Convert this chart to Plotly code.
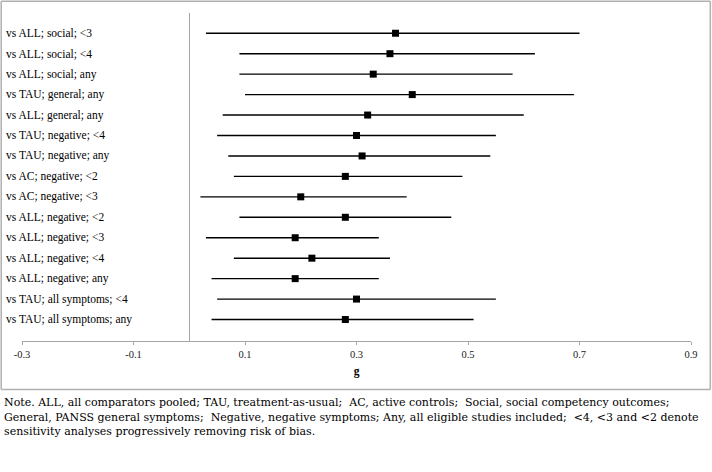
import plotly.graph_objects as go

labels = [
    "vs ALL; social; <3",
    "vs ALL; social; <4",
    "vs ALL; social; any",
    "vs TAU; general; any",
    "vs ALL; general; any",
    "vs TAU; negative; <4",
    "vs TAU; negative; any",
    "vs AC; negative; <2",
    "vs AC; negative; <3",
    "vs ALL; negative; <2",
    "vs ALL; negative; <3",
    "vs ALL; negative; <4",
    "vs ALL; negative; any",
    "vs TAU; all symptoms; <4",
    "vs TAU; all symptoms; any",
]
g_est = [0.37, 0.36, 0.33, 0.40, 0.32, 0.30, 0.31, 0.28, 0.20, 0.28, 0.19, 0.22, 0.19, 0.30, 0.28]
ci_low = [0.03, 0.09, 0.09, 0.10, 0.06, 0.05, 0.07, 0.08, 0.02, 0.09, 0.03, 0.08, 0.04, 0.05, 0.04]
ci_high = [0.70, 0.62, 0.58, 0.69, 0.60, 0.55, 0.54, 0.49, 0.39, 0.47, 0.34, 0.36, 0.34, 0.55, 0.51]
x_ticks = [-0.3, -0.1, 0.1, 0.3, 0.5, 0.7, 0.9]
x_tick_text = ["-0.3", "-0.1", "0.1", "0.3", "0.5", "0.7", "0.9"]
note_lines = [
    "Note. ALL, all comparators pooled; TAU, treatment-as-usual;  AC, active controls;  Social, social competency outcomes;",
    "General, PANSS general symptoms;  Negative, negative symptoms; Any, all eligible studies included;  <4, <3 and <2 denote",
    "sensitivity analyses progressively removing risk of bias.",
]

W, H = 712, 472
ML, MR, MT, MB = 22, 21, 13, 131
PW = W - ML - MR
PH = H - MT - MB

def px(x):
    return (x - ML) / PW

def py(y):
    return (H - MB - y) / PH

FONT = "Liberation Serif"
NOTE_FONT = "DejaVu Serif"
rows = list(range(len(labels)))

fig = go.Figure()
fig.add_trace(go.Scatter(
    x=g_est, y=rows, mode="markers",
    marker=dict(symbol="square", size=7, color="black"),
    error_x=dict(
        type="data", symmetric=False,
        array=[h - e for h, e in zip(ci_high, g_est)],
        arrayminus=[e - l for e, l in zip(g_est, ci_low)],
        color="black", thickness=1.4, width=0,
    ),
    showlegend=False, hoverinfo="skip",
))

annotations = []
for i, lab in enumerate(labels):
    annotations.append(dict(
        x=px(3.5), xref="paper", y=i, yref="y", text=lab, showarrow=False,
        xanchor="left", yanchor="middle",
        font=dict(family=FONT, size=11.5, color="black"),
    ))
for yy, line in zip([402.7, 417.2, 431.7], note_lines):
    annotations.append(dict(
        x=px(1.5), xref="paper", y=py(yy), yref="paper", text=line, showarrow=False,
        xanchor="left", yanchor="middle",
        font=dict(family=NOTE_FONT, size=11.0, color="black"),
    ))

# frame around the chart area (pixel positions converted to paper coordinates)
fx0, fx1, fy0, fy1 = px(1.2), px(710.3), py(389.5), py(1.2)
frame_line = dict(color="#b0b0b0", width=1.5)
shapes = [
    dict(type="line", xref="paper", yref="paper", x0=fx0, x1=fx1, y0=fy1, y1=fy1, line=frame_line, layer="above"),
    dict(type="line", xref="paper", yref="paper", x0=fx0, x1=fx1, y0=fy0, y1=fy0, line=frame_line, layer="above"),
    dict(type="line", xref="paper", yref="paper", x0=fx0, x1=fx0, y0=fy0, y1=fy1, line=frame_line, layer="above"),
    dict(type="line", xref="paper", yref="paper", x0=fx1, x1=fx1, y0=fy0, y1=fy1, line=frame_line, layer="above"),
]

fig.update_layout(
    width=W, height=H,
    margin=dict(l=ML, r=MR, t=MT, b=MB, pad=0),
    paper_bgcolor="white", plot_bgcolor="rgba(0,0,0,0)",
    xaxis=dict(
        range=[-0.3, 0.9], tickvals=x_ticks, ticktext=x_tick_text,
        showgrid=False, zeroline=True, zerolinecolor="#a6a6a6", zerolinewidth=1.4,
        showline=True, linecolor="#a6a6a6", linewidth=1.4,
        ticks="outside", ticklen=3, tickcolor="#a6a6a6", tickwidth=1,
        tickfont=dict(family=FONT, size=10.5, color="#222"),
        title=dict(text="<b>g</b>", font=dict(family=FONT, size=11.5, color="black"), standoff=8),
    ),
    yaxis=dict(
        range=[15.05, -0.99], showticklabels=False, showgrid=False,
        zeroline=False, showline=False, ticks="",
    ),
    annotations=annotations,
    shapes=shapes,
)

fig.write_html(
    "out.html",
    config={"displayModeBar": False},
    post_script="document.body.style.margin='0';document.body.style.padding='0';",
)
